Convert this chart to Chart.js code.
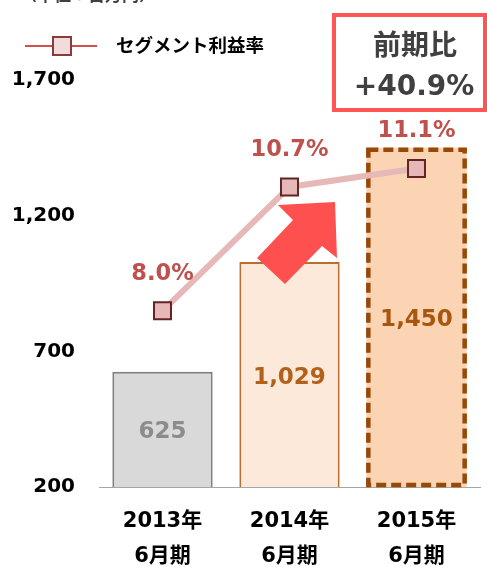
<!DOCTYPE html>
<html>
<head>
<meta charset="utf-8">
<script src="https://cdn.jsdelivr.net/npm/chart.js@4"></script>
<style>
  html, body { margin: 0; padding: 0; background: #fff; }
  #wrap { width: 487px; height: 567px; position: relative; }
</style>
</head>
<body>
<div id="wrap"><canvas id="grafico"></canvas></div>
<script>
// dados do gráfico
const categorias = [['2013年', '6月期'], ['2014年', '6月期'], ['2015年', '6月期']];
const vendas = [625, 1029, 1450];            // 百万円
const margens = [8.0, 10.7, 11.1];           // セグメント利益率 (%)
const yMin = 200, yMax = 1700, yPasso = 500;
const legendaTexto = 'セグメント利益率';
const unidadeTexto = '（単位：百万円）';
const caixaTitulo = '前期比';
const caixaValor = '+40.9%';

const FONTE = '"DejaVu Sans", "Noto Sans CJK JP", sans-serif';

const corBarras = ['#D9D9D9', '#FDE9D9', '#FBD4B4'];
const bordaBarras = ['#7F7F7F', '#B9702F', '#984807'];
const corRotuloBarras = ['#8C8C8C', '#B3601A', '#A9560F'];

// base visível da barra (o eixo começa em 200, não em 0)
function baseVisivel(chart, base) {
  return Math.min(base, chart.chartArea.bottom);
}

// desenha borda tracejada da última barra, logo depois das barras
const bordaTracejada = {
  id: 'bordaTracejada',
  afterDatasetDraw(chart, args) {
    if (args.meta.type !== 'bar') return;
    const el = args.meta.data[2];
    if (!el) return;
    const { x, y, width } = el.getProps(['x', 'y', 'width'], true);
    const base = baseVisivel(chart, el.base);
    const ctx = chart.ctx;
    ctx.save();
    ctx.strokeStyle = bordaBarras[2];
    ctx.lineWidth = 4.5;
    ctx.setLineDash([10, 5]);
    ctx.strokeRect(x - width / 2 + 2, y + 2, width - 4, base - y - 4);
    ctx.restore();
  }
};

// rótulos, seta, legenda e caixa
const extras = {
  id: 'extras',
  afterDatasetsDraw(chart) {
    const ctx = chart.ctx;
    ctx.save();

    // seta vermelha
    ctx.fillStyle = '#FF5050';
    ctx.beginPath();
    ctx.moveTo(278, 205);
    ctx.lineTo(335, 202);
    ctx.lineTo(337, 258);
    ctx.lineTo(322, 246);
    ctx.lineTo(285, 284);
    ctx.lineTo(257, 258);
    ctx.lineTo(293, 220);
    ctx.closePath();
    ctx.fill();

    // valores das barras
    const metaBar = chart.getDatasetMeta(1);
    ctx.textAlign = 'center';
    ctx.textBaseline = 'middle';
    ctx.font = 'bold 23px ' + FONTE;
    metaBar.data.forEach((el, i) => {
      const base = baseVisivel(chart, el.base);
      ctx.fillStyle = corRotuloBarras[i];
      ctx.fillText(vendas[i].toLocaleString('en-US'), el.x, (el.y + base) / 2 + 3);
    });

    ctx.restore();
  },
  afterDraw(chart) {
    const ctx = chart.ctx;
    ctx.save();

    // rótulos da linha (por cima de tudo)
    const metaLinha = chart.getDatasetMeta(0);
    ctx.textAlign = 'center';
    ctx.textBaseline = 'middle';
    ctx.font = 'bold 22.5px ' + FONTE;
    ctx.fillStyle = '#C0504D';
    metaLinha.data.forEach((el, i) => {
      ctx.fillText(margens[i].toFixed(1) + '%', el.x, el.y - 37);
    });

    // unidade (cortada no topo)
    ctx.textAlign = 'left';
    ctx.textBaseline = 'alphabetic';
    ctx.font = 'bold 17px ' + FONTE;
    ctx.fillStyle = '#404040';
    ctx.fillText(unidadeTexto, 20, 0.5);

    // legenda
    ctx.strokeStyle = '#D05050';
    ctx.lineWidth = 2;
    ctx.beginPath();
    ctx.moveTo(25, 46);
    ctx.lineTo(97, 46);
    ctx.stroke();
    ctx.fillStyle = '#F2DCDB';
    ctx.fillRect(53, 37, 18, 18);
    ctx.strokeStyle = '#8B3A3A';
    ctx.strokeRect(53, 37, 18, 18);
    ctx.fillStyle = '#000';
    ctx.font = 'bold 18.5px ' + FONTE;
    ctx.textBaseline = 'middle';
    ctx.fillText(legendaTexto, 116, 47);

    // caixa 前期比
    ctx.fillStyle = '#fff';
    ctx.fillRect(334, 15, 151, 95);
    ctx.strokeStyle = '#FF5555';
    ctx.lineWidth = 4;
    ctx.strokeRect(334, 15, 151, 95);
    ctx.fillStyle = '#404040';
    ctx.textAlign = 'center';
    ctx.font = 'bold 28px ' + FONTE;
    ctx.fillText(caixaTitulo, 415, 48);
    ctx.fillText(caixaValor, 414, 88);

    ctx.restore();
  }
};

const canvas = document.getElementById('grafico');

new Chart(canvas, {
  data: {
    labels: categorias,
    datasets: [
      {
        type: 'line',
        label: legendaTexto,
        data: margens,
        yAxisID: 'y2',
        borderColor: '#E6B9B8',
        borderWidth: 6,
        pointStyle: 'rect',
        pointRadius: 12,
        pointHoverRadius: 12,
        pointBackgroundColor: '#E6B9B8',
        pointBorderColor: '#632523',
        pointBorderWidth: 2,
        tension: 0,
        order: 0
      },
      {
        type: 'bar',
        label: '売上',
        data: vendas,
        yAxisID: 'y',
        backgroundColor: corBarras,
        borderColor: [bordaBarras[0], bordaBarras[1], 'rgba(0,0,0,0)'],
        borderWidth: [2, 2, 0],
        borderSkipped: false,
        barPercentage: 0.79,
        categoryPercentage: 1,
        order: 1
      }
    ]
  },
  options: {
    responsive: true,
    maintainAspectRatio: false,
    animation: false,
    locale: 'en-US',
    layout: { autoPadding: false, padding: { top: 80, right: 7, left: 0, bottom: 0 } },
    plugins: {
      legend: { display: false },
      tooltip: { enabled: false }
    },
    scales: {
      x: {
        offset: true,
        grid: { display: false, drawTicks: false },
        border: { display: true, color: '#A6A6A6', width: 1 },
        ticks: {
          color: '#000',
          padding: 17,
          maxRotation: 0,
          font: { family: FONTE, size: 21, weight: 'bold', lineHeight: 1.67 }
        },
        afterFit(s) { s.height = 80; }
      },
      y: {
        min: yMin,
        max: yMax,
        grid: { display: false, drawTicks: false },
        border: { display: false },
        ticks: {
          stepSize: yPasso,
          color: '#000',
          padding: 24,
          font: { family: FONTE, size: 20, weight: 'bold' }
        },
        afterFit(s) { s.width = 99; }
      },
      y2: {
        display: false,
        position: 'right',
        min: 4.16,
        max: 13.03
      }
    }
  },
  plugins: [bordaTracejada, extras]
});
</script>
</body>
</html>
